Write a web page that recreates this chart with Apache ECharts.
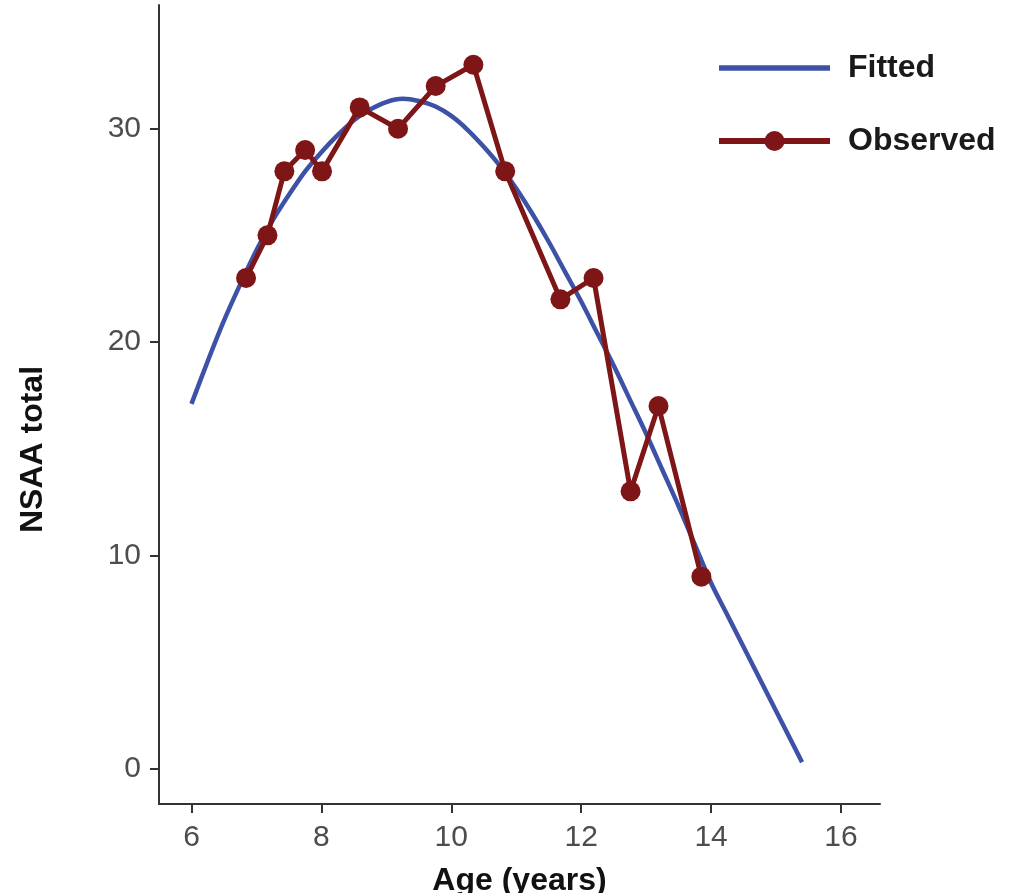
<!DOCTYPE html>
<html>
<head>
<meta charset="utf-8">
<script src="https://cdn.jsdelivr.net/npm/echarts@6/dist/echarts.min.js"></script>
<style>
  html, body { margin: 0; padding: 0; background: #ffffff; }
  #chart { width: 1023px; height: 893px; }
</style>
</head>
<body>
<div id="chart"></div>
<script>
// ---- data ----
const observedAge = [6.84, 7.17, 7.43, 7.75, 8.01, 8.59, 9.18, 9.76, 10.34, 10.83, 11.68, 12.19, 12.76, 13.19, 13.85];
const observedNSAA = [23, 25, 28, 29, 28, 31, 30, 32, 33, 28, 22, 23, 13, 17, 9];

const fittedAge = [6.0, 6.25, 6.5, 6.75, 7.0, 7.25, 7.5, 7.75, 8.0, 8.25, 8.5, 8.75, 9.0, 9.25, 9.5, 9.75,
  10.0, 10.25, 10.5, 10.75, 11.0, 11.25, 11.5, 11.75, 12.0, 12.25, 12.5, 12.75, 13.0, 13.25, 13.5, 13.75,
  14.0, 14.25, 14.5, 14.75, 15.0, 15.25, 15.4];
const fittedNSAA = [17.1, 19.1, 21.0, 22.7, 24.3, 25.7, 26.9, 28.0, 28.9, 29.7, 30.4, 30.9, 31.25, 31.4, 31.3, 31.05,
  30.6, 29.95, 29.15, 28.25, 27.2, 26.0, 24.7, 23.3, 21.9, 20.4, 18.9, 17.3, 15.7, 14.0, 12.3, 10.5,
  8.7, 7.2, 5.7, 4.2, 2.7, 1.2, 0.3];

const xTicks = [6, 8, 10, 12, 14, 16];
const yTicks = [0, 10, 20, 30];
const seriesNames = ['Fitted', 'Observed'];

const fittedPts = fittedAge.map((a, i) => [a, fittedNSAA[i]]);
const observedPts = observedAge.map((a, i) => [a, observedNSAA[i]]);

const FONT = "'Liberation Sans', Arial, Helvetica, sans-serif";
const axisColor = '#333333';
const blue = '#3d52a6';
const red = '#7e1517';

const chart = echarts.init(document.getElementById('chart'), null, { renderer: 'canvas' });
chart.setOption({
  animation: false,
  backgroundColor: '#ffffff',
  grid: { left: 159, top: 5, width: 721, height: 799, containLabel: false, outerBoundsMode: 'none' },
  legend: {
    orient: 'vertical',
    left: 716,
    top: 52,
    padding: 0,
    itemGap: 41,
    itemWidth: 111,
    itemHeight: 25,
    data: [
      { name: seriesNames[0], icon: 'path://M0,0H110V5.5H0Z' },
      { name: seriesNames[1], lineStyle: { color: red, width: 6 } }
    ],
    lineStyle: { width: 6 },
    textStyle: { fontFamily: FONT, fontSize: 32, fontWeight: 'bold', color: '#1a1a1a', padding: [0, 0, 0, 13] }
  },
  xAxis: {
    type: 'value',
    min: 5.5,
    max: 16.6,
    name: 'Age (years)',
    nameLocation: 'middle',
    nameGap: 61,
    nameTextStyle: { fontFamily: FONT, fontSize: 32, fontWeight: 'bold', color: '#111111' },
    axisLine: { show: true, onZero: false, lineStyle: { color: axisColor, width: 2 } },
    axisTick: { show: true, length: 9, lineStyle: { color: axisColor, width: 2 }, customValues: xTicks },
    axisLabel: { fontFamily: FONT, fontSize: 30, color: '#4d4d4d', margin: 19, customValues: xTicks },
    splitLine: { show: false }
  },
  yAxis: {
    type: 'value',
    min: -1.66,
    max: 35.8,
    name: 'NSAA total',
    nameLocation: 'middle',
    nameGap: 110,
    nameRotate: 90,
    nameTextStyle: { fontFamily: FONT, fontSize: 32, fontWeight: 'bold', color: '#111111', padding: [0, 90, 0, 0] },
    axisLine: { show: true, onZero: false, lineStyle: { color: axisColor, width: 2 } },
    axisTick: { show: true, length: 9, lineStyle: { color: axisColor, width: 2 }, customValues: yTicks },
    axisLabel: { fontFamily: FONT, fontSize: 30, color: '#4d4d4d', margin: 18, customValues: yTicks },
    splitLine: { show: false }
  },
  series: [
    {
      name: seriesNames[0],
      type: 'line',
      data: fittedPts,
      smooth: 0.3,
      symbol: 'none',
      lineStyle: { color: blue, width: 4.5 },
      itemStyle: { color: blue },
      z: 2
    },
    {
      name: seriesNames[1],
      type: 'line',
      data: observedPts,
      symbol: 'circle',
      symbolSize: 20,
      lineStyle: { color: red, width: 5 },
      itemStyle: { color: red },
      z: 3
    }
  ]
});
</script>
</body>
</html>
